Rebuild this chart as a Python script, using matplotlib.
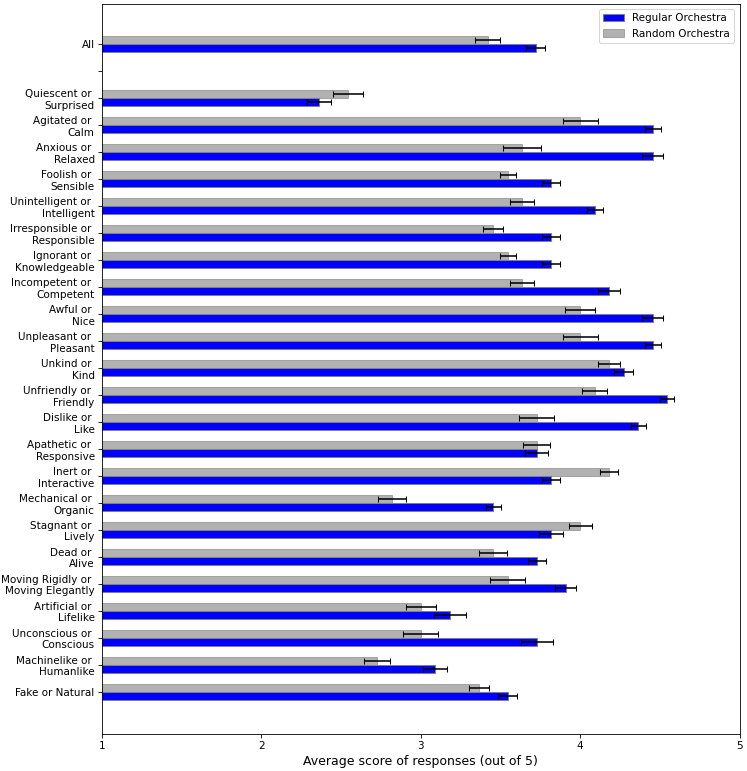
import matplotlib
matplotlib.use('Agg')
import matplotlib.pyplot as plt
import numpy as np

# categories from top to bottom ('' is the empty slot under "All")
labels = ['All', '',
          'Quiescent or \nSurprised', 'Agitated or \nCalm', 'Anxious or \nRelaxed',
          'Foolish or \nSensible', 'Unintelligent or \nIntelligent',
          'Irresponsible or \nResponsible', 'Ignorant or \nKnowledgeable',
          'Incompetent or \nCompetent', 'Awful or \nNice', 'Unpleasant or \nPleasant',
          'Unkind or \nKind', 'Unfriendly or \nFriendly', 'Dislike or \nLike',
          'Apathetic or \nResponsive', 'Inert or \nInteractive', 'Mechanical or \nOrganic',
          'Stagnant or \nLively', 'Dead or \nAlive', 'Moving Rigidly or \nMoving Elegantly',
          'Artificial or \nLifelike', 'Unconscious or \nConscious',
          'Machinelike or \nHumanlike', 'Fake or Natural']

regular = [3.72, np.nan,
           2.364, 4.455, 4.455, 3.818, 4.091, 3.818, 3.818, 4.182, 4.455, 4.455,
           4.273, 4.545, 4.364, 3.727, 3.818, 3.455, 3.818, 3.727, 3.909,
           3.182, 3.727, 3.091, 3.545]
regular_err = [0.06, np.nan,
               0.075, 0.05, 0.064, 0.055, 0.05, 0.055, 0.055, 0.068, 0.064, 0.05,
               0.058, 0.047, 0.047, 0.071, 0.055, 0.048, 0.076, 0.057, 0.064,
               0.1, 0.1, 0.075, 0.062]

random_ = [3.42, np.nan,
           2.545, 4.0, 3.636, 3.545, 3.636, 3.455, 3.545, 3.636, 4.0, 4.0,
           4.182, 4.091, 3.727, 3.727, 4.182, 2.818, 4.0, 3.455, 3.545,
           3.0, 3.0, 2.727, 3.364]
random_err = [0.08, np.nan,
              0.095, 0.11, 0.117, 0.05, 0.074, 0.063, 0.05, 0.074, 0.092, 0.11,
              0.068, 0.077, 0.11, 0.083, 0.057, 0.088, 0.072, 0.087, 0.112,
              0.093, 0.109, 0.082, 0.063]

labels = labels[::-1]
regular = regular[::-1]
regular_err = regular_err[::-1]
random_ = random_[::-1]
random_err = random_err[::-1]

y = np.arange(len(labels))
h = 0.3

fig, ax = plt.subplots(figsize=(747 / 75, 771 / 75), dpi=75)
fig.subplots_adjust(left=0.1365, right=0.99, top=0.9948, bottom=0.048)

ax.barh(y - h / 2, regular, h, xerr=regular_err, color='blue', edgecolor='gray',
        linewidth=1, capsize=3, label='Regular Orchestra')
ax.barh(y + h / 2, random_, h, xerr=random_err, color='gray', alpha=0.6,
        edgecolor='gray', linewidth=1, capsize=3, label='Random Orchestra',
        error_kw=dict(alpha=1))

ax.set_yticks(y)
ax.set_yticklabels(labels)
ax.set_xlim(1, 5)
ax.set_xticks([1, 2, 3, 4, 5])
ax.set_ylim(-1.56, 25.48)
ax.set_xlabel('Average score of responses (out of 5)', fontsize=12)
ax.legend(loc='upper right')

fig.savefig('out.png', dpi=75)
